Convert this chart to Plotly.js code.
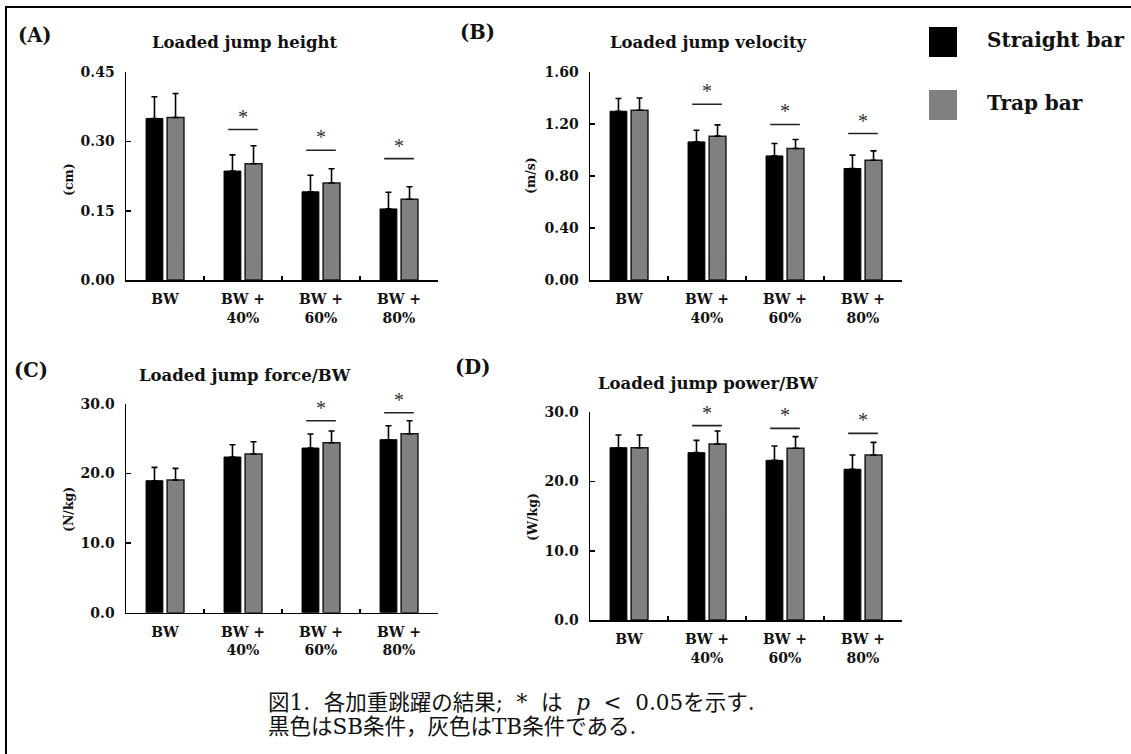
<!DOCTYPE html>
<html>
<head>
<meta charset="utf-8">
<script src="https://cdn.plot.ly/plotly-3.0.1.min.js"></script>
<style>html,body{margin:0;padding:0;background:#fff;}#chart{width:1131px;height:754px;}</style>
</head>
<body>
<div id="chart"></div>
<script>
// ---------- data ----------
const categories = ['BW', 'BW +<br>40%', 'BW +<br>60%', 'BW +<br>80%'];
const seriesNames = ['Straight bar', 'Trap bar'];

// (A) Loaded jump height (cm)
const sbHeight   = [0.350, 0.236, 0.191, 0.154];
const sbHeightSD = [0.047, 0.035, 0.036, 0.036];
const tbHeight   = [0.352, 0.252, 0.210, 0.175];
const tbHeightSD = [0.052, 0.039, 0.031, 0.027];
const sigHeight  = [null, 0.326, 0.281, 0.263];

// (B) Loaded jump velocity (m/s)
const sbVelocity   = [1.300, 1.064, 0.956, 0.859];
const sbVelocitySD = [0.098, 0.090, 0.095, 0.103];
const tbVelocity   = [1.308, 1.108, 1.013, 0.923];
const tbVelocitySD = [0.094, 0.087, 0.069, 0.072];
const sigVelocity  = [null, 1.354, 1.198, 1.128];

// (C) Loaded jump force/BW (N/kg)
const sbForce   = [18.97, 22.38, 23.67, 24.87];
const sbForceSD = [1.92, 1.77, 2.02, 2.01];
const tbForce   = [19.07, 22.81, 24.44, 25.73];
const tbForceSD = [1.68, 1.77, 1.68, 1.87];
const sigForce  = [null, null, 27.60, 28.75];

// (D) Loaded jump power/BW (W/kg)
const sbPower   = [24.89, 24.17, 23.06, 21.77];
const sbPowerSD = [1.83, 1.78, 2.07, 2.06];
const tbPower   = [24.89, 25.42, 24.80, 23.83];
const tbPowerSD = [1.83, 1.88, 1.68, 1.83];
const sigPower  = [null, 28.07, 27.68, 26.96];

const panelLabels = ['(A)', '(B)', '(C)', '(D)'];
const panelTitles = ['Loaded jump height', 'Loaded jump velocity', 'Loaded jump force/BW', 'Loaded jump power/BW'];
const yUnits = ['(cm)', '(m/s)', '(N/kg)', '(W/kg)'];
const yTickVals = [
  [0, 0.15, 0.30, 0.45],
  [0, 0.40, 0.80, 1.20, 1.60],
  [0, 10, 20, 30],
  [0, 10, 20, 30]
];
const yFormats = ['.2f', '.2f', '.1f', '.1f'];
const captionLines = [
  '図1.&nbsp;&nbsp;各加重跳躍の結果;&nbsp;&nbsp;*&nbsp;&nbsp;は&nbsp;&nbsp;<i>p</i>&nbsp;&nbsp;<&nbsp;&nbsp;0.05を示す.',
  '黒色はSB条件，灰色はTB条件である.'
];

// ---------- layout helpers ----------
const W = 1131, H = 754;
const px = v => v / W;
const py = v => 1 - v / H;

const panels = [
  {sb: sbHeight, sbSD: sbHeightSD, tb: tbHeight, tbSD: tbHeightSD, sig: sigHeight,
   x: [126, 438], y: [72.3, 280], title: [245, 43], label: [35, 35], unit: [68, 180]},
  {sb: sbVelocity, sbSD: sbVelocitySD, tb: tbVelocity, tbSD: tbVelocitySD, sig: sigVelocity,
   x: [590, 902], y: [72.3, 280], title: [708, 43], label: [477, 33], unit: [530, 176]},
  {sb: sbForce, sbSD: sbForceSD, tb: tbForce, tbSD: tbForceSD, sig: sigForce,
   x: [126, 438], y: [404, 612.7], title: [245, 375], label: [31, 370], unit: [68, 510]},
  {sb: sbPower, sbSD: sbPowerSD, tb: tbPower, tbSD: tbPowerSD, sig: sigPower,
   x: [590, 902], y: [412.3, 620], title: [708, 383], label: [472, 368], unit: [532, 517]}
];

const serif = 'DejaVu Serif, Liberation Serif, serif';
const traces = [];
const shapes = [];
const annotations = [];
const layout = {
  width: W, height: H, autosize: false,
  margin: {l: 0, r: 0, t: 0, b: 0},
  paper_bgcolor: '#fff', plot_bgcolor: 'rgba(0,0,0,0)',
  showlegend: false,
  barmode: 'group', bargap: 0.46, bargroupgap: 0.2,
  font: {family: serif, color: '#111'}
};

panels.forEach((p, k) => {
  const n = k + 1;
  const xa = 'x' + (n === 1 ? '' : n), ya = 'y' + (n === 1 ? '' : n);
  const xKey = 'xaxis' + (n === 1 ? '' : n), yKey = 'yaxis' + (n === 1 ? '' : n);
  const yt = yTickVals[k];
  const ymax = yt[yt.length - 1];

  traces.push({
    type: 'bar', name: seriesNames[0], x: categories, y: p.sb, xaxis: xa, yaxis: ya,
    marker: {color: '#000000', line: {color: '#000000', width: 1}},
    error_y: {type: 'data', symmetric: false, array: p.sbSD, arrayminus: p.sbSD.map(() => 0),
              color: '#000', thickness: 1.6, width: 3},
    hoverinfo: 'skip'
  });
  traces.push({
    type: 'bar', name: seriesNames[1], x: categories, y: p.tb, xaxis: xa, yaxis: ya,
    marker: {color: '#808080', line: {color: '#1a1a1a', width: 1.5}},
    error_y: {type: 'data', symmetric: false, array: p.tbSD, arrayminus: p.tbSD.map(() => 0),
              color: '#000', thickness: 1.6, width: 3},
    hoverinfo: 'skip'
  });

  layout[xKey] = {
    domain: [px(p.x[0]), px(p.x[1])], anchor: ya,
    type: 'category', range: [-0.5, categories.length - 0.5],
    showline: true, linecolor: '#000', linewidth: 1.5,
    ticks: 'inside', tickson: 'boundaries', ticklen: 4, tickwidth: 1.5, tickcolor: '#000',
    showgrid: false, zeroline: false, fixedrange: true,
    tickfont: {family: serif, size: 14, weight: 'bold', color: '#111'},
    ticklabelstandoff: 6
  };
  layout[yKey] = {
    domain: [py(p.y[1]), py(p.y[0])], anchor: xa,
    range: [0, ymax], tickvals: yt, tickformat: yFormats[k],
    showline: true, linecolor: '#000', linewidth: 1.5,
    ticks: 'inside', ticklen: 5, tickwidth: 1.5, tickcolor: '#000',
    showgrid: false, zeroline: false, fixedrange: true,
    tickfont: {family: serif, size: 14, weight: 'bold', color: '#111'},
    ticklabelstandoff: 7
  };

  // significance lines + stars
  p.sig.forEach((v, i) => {
    if (v === null) return;
    shapes.push({type: 'line', xref: xa, yref: ya, x0: i - 0.19, x1: i + 0.19, y0: v, y1: v,
                 line: {color: '#222', width: 1.6}});
    annotations.push({xref: xa, yref: ya, x: i, y: v, text: '*', showarrow: false,
                      yanchor: 'middle', yshift: 13,
                      font: {family: 'Liberation Serif, serif', size: 20, color: '#333'}});
  });

  annotations.push({xref: 'paper', yref: 'paper', x: px(p.title[0]), y: py(p.title[1]),
    text: panelTitles[k], showarrow: false, xanchor: 'center', yanchor: 'middle',
    font: {family: serif, size: 16.5, weight: 'bold', color: '#111'}});
  annotations.push({xref: 'paper', yref: 'paper', x: px(p.label[0]), y: py(p.label[1]),
    text: panelLabels[k], showarrow: false, xanchor: 'center', yanchor: 'middle',
    font: {family: serif, size: 19.5, weight: 'bold', color: '#111'}});
  annotations.push({xref: 'paper', yref: 'paper', x: px(p.unit[0]), y: py(p.unit[1]),
    text: yUnits[k], showarrow: false, xanchor: 'center', yanchor: 'middle', textangle: -90,
    font: {family: serif, size: 12.5, weight: 'bold', color: '#111'}});
});

// legend (drawn manually to match the large swatches)
const legendColors = ['#000000', '#808080'];
const legendRows = [42, 105];
legendRows.forEach((cy, i) => {
  shapes.push({type: 'rect', xref: 'paper', yref: 'paper',
    x0: px(929), x1: px(957), y0: py(cy - 15), y1: py(cy + 15),
    fillcolor: legendColors[i], line: {width: 0}});
  annotations.push({xref: 'paper', yref: 'paper', x: px(985), y: py(cy - 2),
    text: seriesNames[i], showarrow: false, xanchor: 'left', yanchor: 'middle',
    font: {family: serif, size: 20, weight: 'bold', color: '#111'}});
});

// figure frame (top and left border)
shapes.push({type: 'line', xref: 'paper', yref: 'paper', x0: px(5), x1: 1, y0: py(7), y1: py(7),
             line: {color: '#000', width: 2}});
shapes.push({type: 'line', xref: 'paper', yref: 'paper', x0: px(6), x1: px(6), y0: py(7), y1: 0,
             line: {color: '#000', width: 2}});

// caption
const captionY = [702, 726];
captionLines.forEach((t, i) => {
  annotations.push({xref: 'paper', yref: 'paper', x: px(266), y: py(captionY[i]),
    text: t, showarrow: false, xanchor: 'left', yanchor: 'middle', align: 'left',
    font: {family: 'DejaVu Serif, Noto Sans CJK JP, serif', size: 21.5, color: '#111'}});
});

layout.shapes = shapes;
layout.annotations = annotations;

Plotly.newPlot('chart', traces, layout, {staticPlot: true, displayModeBar: false});
</script>
</body>
</html>
